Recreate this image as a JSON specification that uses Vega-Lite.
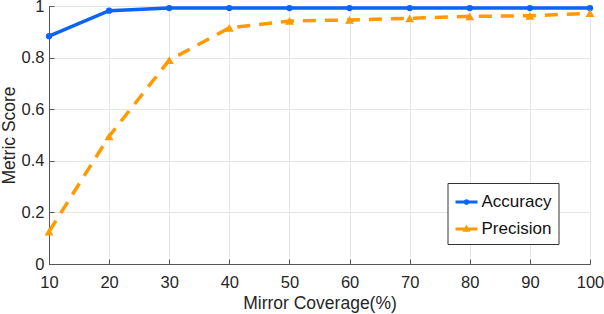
{
  "$schema": "https://vega.github.io/schema/vega-lite/v6.json",
  "autosize": "none",
  "width": 541,
  "height": 258,
  "padding": {"left": 49, "top": 6, "right": 14, "bottom": 50},
  "background": "white",
  "config": {
    "font": "Liberation Sans",
    "view": {"stroke": "#555", "strokeWidth": 1},
    "axis": {
      "domainColor": "#555",
      "tickColor": "#555",
      "gridColor": "#e6e6e6",
      "labelColor": "#262626",
      "titleColor": "#262626",
      "labelFontSize": 16.5,
      "titleFontSize": 17.5,
      "titleFontWeight": "normal",
      "tickSize": -5
    }
  },
  "data": {
    "values": [
      {"coverage": 10, "series": "Accuracy", "score": 0.883},
      {"coverage": 20, "series": "Accuracy", "score": 0.982},
      {"coverage": 30, "series": "Accuracy", "score": 0.992},
      {"coverage": 40, "series": "Accuracy", "score": 0.992},
      {"coverage": 50, "series": "Accuracy", "score": 0.992},
      {"coverage": 60, "series": "Accuracy", "score": 0.992},
      {"coverage": 70, "series": "Accuracy", "score": 0.992},
      {"coverage": 80, "series": "Accuracy", "score": 0.992},
      {"coverage": 90, "series": "Accuracy", "score": 0.992},
      {"coverage": 100, "series": "Accuracy", "score": 0.992},
      {"coverage": 10, "series": "Precision", "score": 0.125},
      {"coverage": 20, "series": "Precision", "score": 0.495},
      {"coverage": 30, "series": "Precision", "score": 0.79},
      {"coverage": 40, "series": "Precision", "score": 0.915},
      {"coverage": 50, "series": "Precision", "score": 0.942},
      {"coverage": 60, "series": "Precision", "score": 0.946},
      {"coverage": 70, "series": "Precision", "score": 0.952},
      {"coverage": 80, "series": "Precision", "score": 0.96},
      {"coverage": 90, "series": "Precision", "score": 0.962},
      {"coverage": 100, "series": "Precision", "score": 0.972}
    ]
  },
  "encoding": {
    "x": {
      "field": "coverage",
      "type": "quantitative",
      "scale": {"domain": [10, 100], "nice": false, "zero": false},
      "axis": {
        "values": [10, 20, 30, 40, 50, 60, 70, 80, 90, 100],
        "title": "Mirror Coverage(%)",
        "titlePadding": 4,
        "labelFlush": false,
        "labelPadding": 15
      }
    },
    "y": {
      "field": "score",
      "type": "quantitative",
      "scale": {"domain": [0, 1], "nice": false},
      "axis": {
        "values": [0, 0.2, 0.4, 0.6, 0.8, 1],
        "format": ".1~f",
        "title": "Metric Score",
        "titlePadding": 3,
        "labelFlush": false,
        "labelPadding": 10
      }
    }
  },
  "layer": [
    {
      "transform": [{"filter": "datum.series === 'Accuracy'"}],
      "mark": {"type": "line", "color": "#0a64f5", "strokeWidth": 3.5}
    },
    {
      "transform": [{"filter": "datum.series === 'Precision'"}],
      "mark": {"type": "line", "color": "#ff9a00", "strokeWidth": 3.5, "strokeDash": [13, 9]}
    },
    {
      "transform": [{"filter": "datum.series === 'Accuracy'"}],
      "mark": {"type": "point", "shape": "circle", "filled": true, "opacity": 1, "color": "#0a64f5", "size": 40}
    },
    {
      "transform": [{"filter": "datum.series === 'Precision'"}],
      "mark": {"type": "point", "shape": "triangle-up", "filled": true, "opacity": 1, "color": "#ff9a00", "size": 80}
    },
    {
      "transform": [{"filter": "false"}],
      "mark": {"type": "point", "filled": true, "opacity": 1},
      "encoding": {
        "color": {
          "field": "series",
          "type": "nominal",
          "scale": {"domain": ["Accuracy", "Precision"], "range": ["#0a64f5", "#ff9a00"]},
          "legend": {
            "title": null,
            "orient": "none",
            "legendX": 398.5,
            "legendY": 177,
            "fillColor": "white",
            "strokeColor": "#333",
            "padding": 7,
            "rowPadding": 7,
            "labelFontSize": 17,
            "labelColor": "#111",
            "labelOffset": 3,
            "symbolSize": 484,
            "symbolOpacity": 1
          }
        },
        "shape": {
          "field": "series",
          "type": "nominal",
          "scale": {
            "domain": ["Accuracy", "Precision"],
            "range": [
              "M-1,-0.14H1V0.14H-1Z M-0.26,0A0.26,0.26 0 1,1 0.26,0A0.26,0.26 0 1,1 -0.26,0Z",
              "M-1,-0.14H1V0.14H-1Z M0,-0.4L0.36,0.24H-0.36Z"
            ]
          }
        }
      }
    }
  ]
}
